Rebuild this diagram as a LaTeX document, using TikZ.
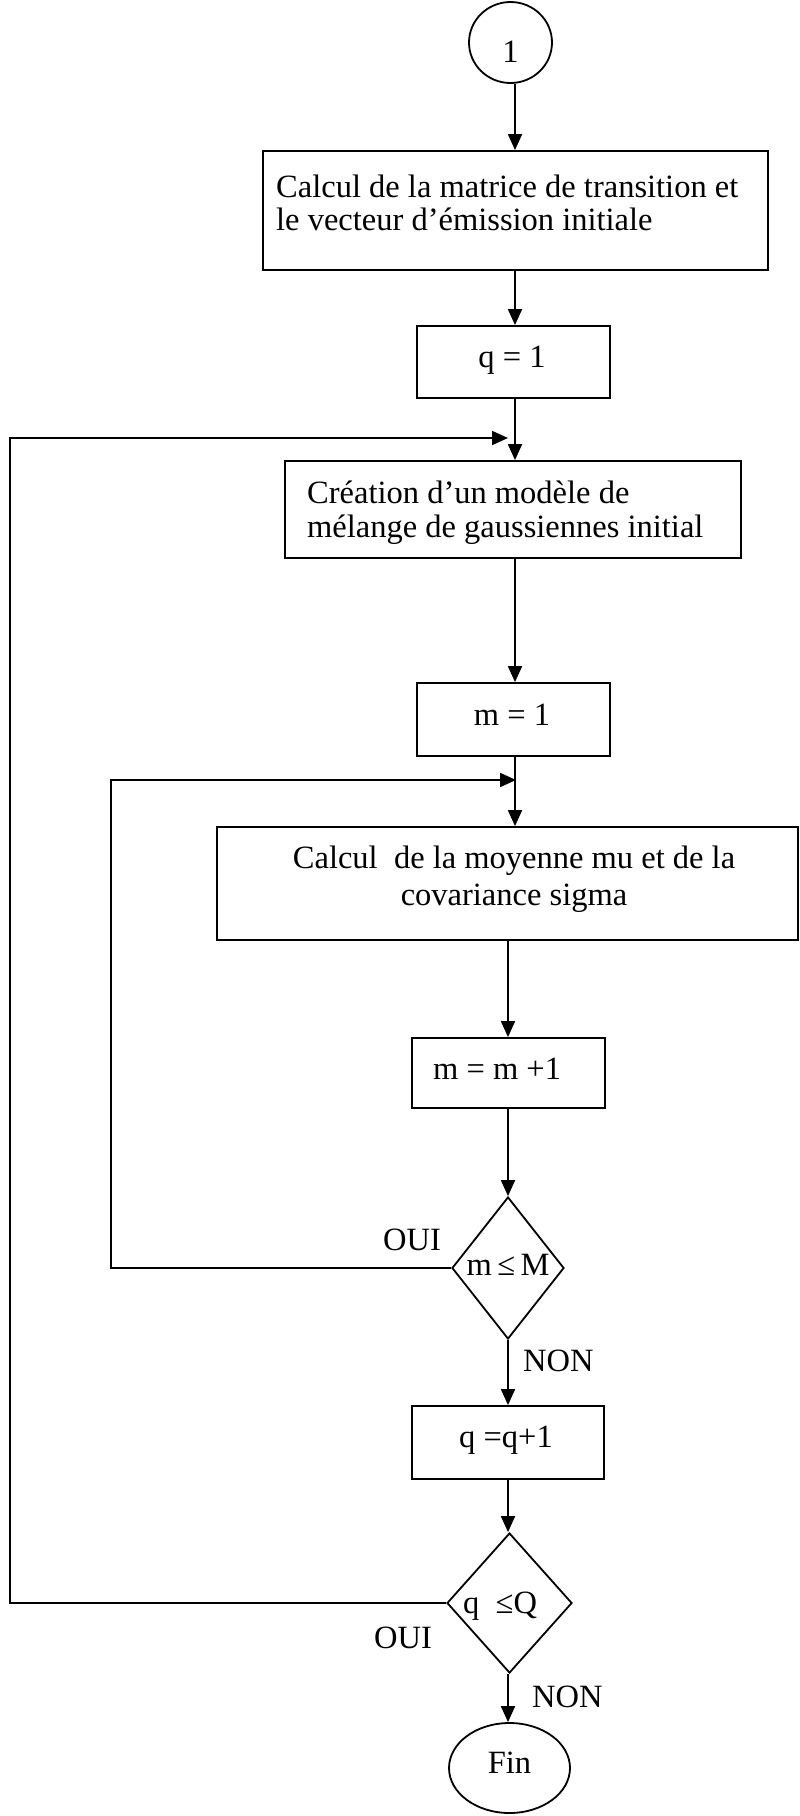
\documentclass[tikz,border=0pt]{standalone}
\usepackage{fontspec}
\setmainfont{Liberation Serif}
\usetikzlibrary{arrows.meta,shapes.geometric}
\begin{document}
\begin{tikzpicture}[x=1pt,y=-1pt,
  outline/.style={draw,line width=1.8pt,inner sep=0pt},
  boxnode/.style={outline,rectangle},
  endnode/.style={outline,ellipse},
  testnode/.style={outline,diamond},
  txt/.style={inner sep=0pt,font=\fontsize{32.5}{39}\selectfont},
  link/.style={line width=1.8pt},
  arr/.style={link,-{Triangle[length=16pt,width=14pt]}}
]
\useasboundingbox (0,0) rectangle (800,1816);
\fill[white] (0,0) rectangle (800,1816);

% start terminal
\node[endnode,minimum width=83pt,minimum height=81pt] (start) at (510.5,42.5) {};
\node[txt,anchor=base] (startT) at (510.5,62) {1};

% transition matrix and initial emission vector
\node[boxnode,minimum width=505pt,minimum height=119pt] (b1) at (515.5,210.5) {};
\node[txt,anchor=base west] (b1a) at (276,197) {Calcul de la matrice de transition et};
\node[txt,anchor=base west] (b1b) at (276,230) {le vecteur d’émission initiale};

% q = 1
\node[boxnode,minimum width=193pt,minimum height=72pt] (q1) at (513.5,362) {};
\node[txt,anchor=base] (q1T) at (512,367) {q = 1};

% initial GMM
\node[boxnode,minimum width=456pt,minimum height=97pt] (b2) at (513,509.5) {};
\node[txt,anchor=base west] (b2a) at (307,503) {Création d’un modèle de};
\node[txt,anchor=base west] (b2b) at (307,537) {mélange de gaussiennes initial};

% m = 1
\node[boxnode,minimum width=193pt,minimum height=73pt] (m1) at (513.5,719.5) {};
\node[txt,anchor=base] (m1T) at (512,725) {m = 1};

% mean and covariance
\node[boxnode,minimum width=581pt,minimum height=113pt] (b3) at (507.5,883.5) {};
\node[txt,anchor=base] (b3a) at (514,868) {Calcul\ \ de la moyenne mu et de la};
\node[txt,anchor=base] (b3b) at (514,905) {covariance sigma};

% m = m + 1
\node[boxnode,minimum width=193pt,minimum height=70pt] (mm) at (508.5,1073) {};
\node[txt,anchor=base west] (mmT) at (433,1079) {m = m +1};

% test on m
\node[testnode,minimum width=112pt,minimum height=142pt] (d1) at (508,1268) {};
\node[txt,anchor=base] (d1T) at (508,1275) {m\,≤\,M};

% q = q + 1
\node[boxnode,minimum width=192pt,minimum height=73pt] (qq) at (508,1442.5) {};
\node[txt,anchor=base] (qqT) at (506,1447) {q =q+1};

% test on q
\node[testnode,minimum width=125pt,minimum height=140pt] (d2) at (509.5,1603) {};
\node[txt,anchor=base west] (d2T) at (463,1613) {q\ \ ≤Q};

% end terminal
\node[endnode,minimum width=121pt,minimum height=90pt] (fin) at (509.5,1768) {};
\node[txt,anchor=base] (finT) at (509.5,1773) {Fin};

% branch labels
\node[txt,anchor=base] (oui1) at (412,1250) {OUI};
\node[txt,anchor=base west] (non1) at (523,1371) {NON};
\node[txt,anchor=base west] (oui2) at (374,1648) {OUI};
\node[txt,anchor=base west] (non2) at (532,1707) {NON};

% guide columns and loop corners
\coordinate (colA) at (515,0);
\coordinate (colB) at (508,0);
\coordinate (outerC) at (10,438);
\coordinate (outerTip) at (508,438);
\coordinate (innerC) at (111,780);
\coordinate (innerTip) at (516,780);

% main flow
\draw[arr] (start.south -| colA) -- (b1.north -| colA);
\draw[arr] (b1.south -| colA) -- (q1.north -| colA);
\draw[arr] (q1.south -| colA) -- (b2.north -| colA);
\draw[arr] (b2.south -| colA) -- (m1.north -| colA);
\draw[arr] (m1.south -| colA) -- (b3.north -| colA);
\draw[arr] (b3.south -| colB) -- (mm.north -| colB);
\draw[arr] (mm.south -| d1.north) -- (d1.north);
\draw[arr] (d1.south) -- (qq.north -| d1.south);
\draw[arr] (qq.south -| d1.south) -- (d2.north -| d1.south);
\draw[arr] (d2.south -| d1.south) -- (fin.north -| d1.south);

% loops back
\draw[arr] (d1.west) -| (innerC) -- (innerTip);
\draw[arr] (d2.west) -| (outerC) -- (outerTip);
\end{tikzpicture}
\end{document}
